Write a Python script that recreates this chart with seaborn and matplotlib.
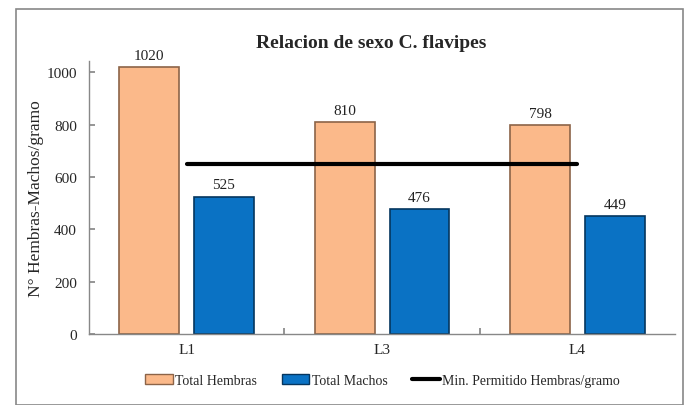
import numpy as np
import pandas as pd
import matplotlib
matplotlib.use("Agg")
import matplotlib.pyplot as plt
import seaborn as sns
from matplotlib.patches import Patch, Rectangle
from matplotlib.lines import Line2D

categories = ["L1", "L3", "L4"]
hembras = [1020, 810, 798]
machos = [525, 476, 449]
minimo = [650, 650, 650]
series_names = ["Total Hembras", "Total Machos"]
line_name = "Min. Permitido Hembras/gramo"
yticks = [0, 200, 400, 600, 800, 1000]

sns.set_theme(style="white")
plt.rcParams["font.family"] = ["Liberation Serif", "DejaVu Serif"]

df = pd.DataFrame({
    "cat": categories * 2,
    "serie": [series_names[0]] * 3 + [series_names[1]] * 3,
    "val": hembras + machos,
})

colors = {"Total Hembras": "#FBB98A", "Total Machos": "#0A72C4"}
edges = {"Total Hembras": "#8C6448", "Total Machos": "#05365F"}

fig = plt.figure(figsize=(6.89, 4.06), dpi=100)
ax = fig.add_axes([0.129, 0.175, 0.851, 0.672])

sns.barplot(data=df, x="cat", y="val", hue="serie", palette=colors,
            width=0.765, gap=0.2, ax=ax, legend=False, saturation=1)

for cont, name in zip(ax.containers, series_names):
    for p in cont:
        p.set_edgecolor(edges[name])
        p.set_linewidth(1.2)
    ax.bar_label(cont, fmt="%d", padding=4, fontsize=11, color="#222222")

xpos = np.arange(len(categories))
ax.plot(xpos, minimo, color="black", lw=3, solid_capstyle="round", zorder=5)

ax.set_xlim(-0.5, 2.5)
ax.set_ylim(0, 1043)
ax.set_yticks(yticks)
ax.set_yticklabels([str(v) for v in yticks], fontsize=11)
ax.set_xticks([0.5, 1.5])
ax.set_xticklabels([])
ax.tick_params(axis="y", left=True, direction="in", length=4, color="#888888", pad=8.5)
ax.tick_params(axis="x", bottom=True, direction="in", length=4, color="#888888")
for i, c in enumerate(categories):
    ax.text(i, -0.035, c, transform=ax.get_xaxis_transform(), ha="center",
            va="top", fontsize=11)
ax.set_xlabel("")
ax.set_ylabel("N° Hembras-Machos/gramo", fontsize=12.5, labelpad=2)

for s in ["top", "right"]:
    ax.spines[s].set_visible(False)
for s in ["left", "bottom"]:
    ax.spines[s].set_color("#888888")
    ax.spines[s].set_linewidth(1)

fig.text(0.539, 0.893, "Relacion de sexo C. flavipes", ha="center", va="center",
         fontsize=14, fontweight="bold")

handles = [Patch(facecolor=colors[series_names[0]], edgecolor=edges[series_names[0]]),
           Patch(facecolor=colors[series_names[1]], edgecolor=edges[series_names[1]]),
           Line2D([0], [0], color="black", lw=3)]
fig.legend(handles, series_names + [line_name], loc="center",
           bbox_to_anchor=(0.555, 0.06), ncol=3, frameon=False, fontsize=10,
           handlelength=2.0, handletextpad=0.15, columnspacing=1.8)

fig.patches.append(Rectangle((0.023, 0.0), 0.969, 0.975, transform=fig.transFigure,
                             fill=False, edgecolor="#888888", lw=1.2))

fig.savefig("out.png", dpi=100)
